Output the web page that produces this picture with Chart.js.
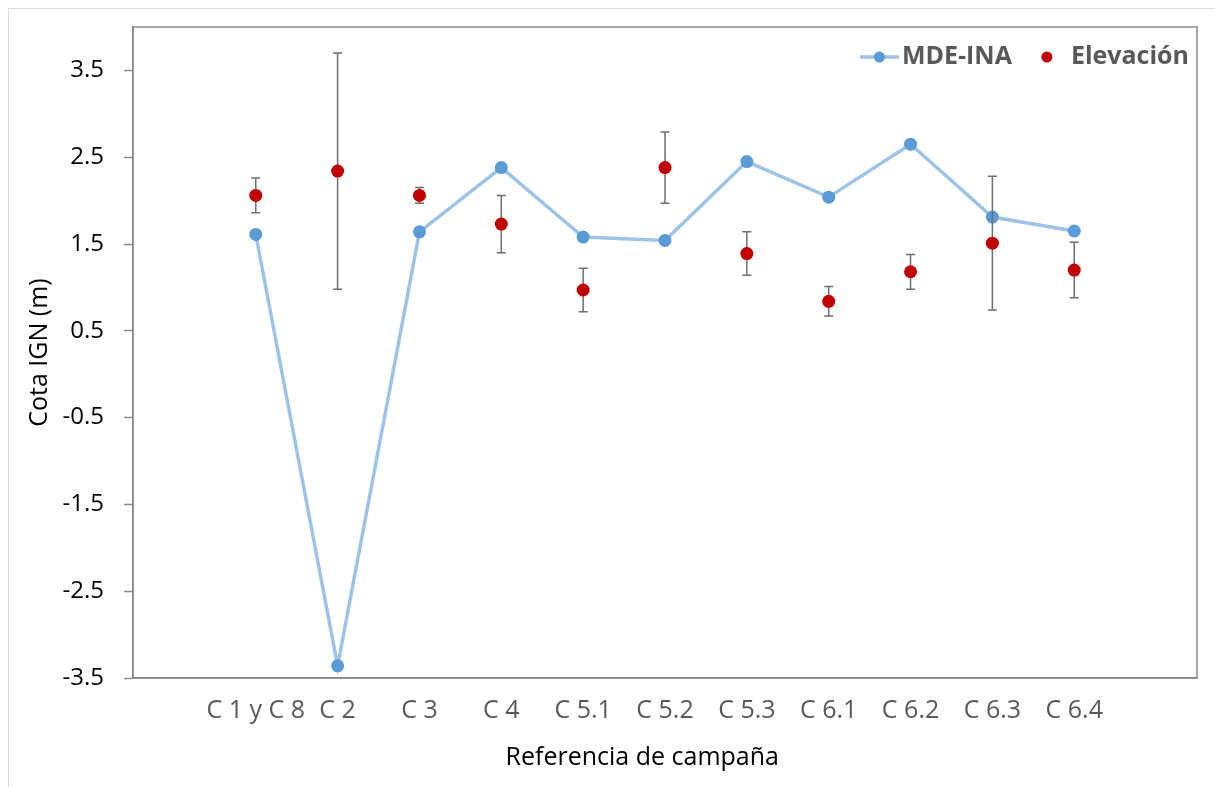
<!DOCTYPE html>
<html lang="es">
<head>
  <meta charset="UTF-8">
  <title>Cota IGN por campaña</title>
  <script src="https://cdn.jsdelivr.net/npm/chart.js"></script>
  <style>
    body { margin: 0; background: #fff; font-family: "Open Sans", sans-serif; }
    #marco { position: absolute; left: 8px; top: 8px; width: 1230px; height: 800px; border: 1.5px solid #d9d9d9; }
    #grafico { position: absolute; left: 0; top: 0; }
  </style>
</head>
<body>
  <div id="marco"></div>
  <canvas id="grafico" width="1215" height="787"></canvas>

  <script>
    // datos
    const campanas = ['C 1 y C 8', 'C 2', 'C 3', 'C 4', 'C 5.1', 'C 5.2', 'C 5.3', 'C 6.1', 'C 6.2', 'C 6.3', 'C 6.4'];
    const mdeIna = [1.61, -3.36, 1.64, 2.38, 1.58, 1.54, 2.45, 2.04, 2.65, 1.81, 1.65];
    const elevacion = [2.06, 2.34, 2.06, 1.73, 0.97, 2.38, 1.39, 0.84, 1.18, 1.51, 1.20];
    const errorElev = [0.20, 1.36, 0.09, 0.33, 0.25, 0.41, 0.25, 0.17, 0.20, 0.77, 0.32];
    const yTicks = [-3.5, -2.5, -1.5, -0.5, 0.5, 1.5, 2.5, 3.5];

    const AZUL_LINEA = '#9DC3E6';
    const AZUL = '#5B9BD5';
    const ROJO = '#C00000';
    const GRIS_EJE = '#898989';

    const puntos = vals => vals.map((v, i) => ({ x: i + 1, y: v }));

    // barras de error, dibujadas antes de los puntos rojos
    const barrasError = {
      id: 'barrasError',
      beforeDatasetDraw(chart, args) {
        if (args.index !== 1) return;
        const ctx = chart.ctx;
        const xs = chart.scales.x, ys = chart.scales.y;
        ctx.save();
        ctx.strokeStyle = '#6f6f6f';
        ctx.lineWidth = 1.5;
        elevacion.forEach((v, i) => {
          const x = xs.getPixelForValue(i + 1);
          const y1 = ys.getPixelForValue(v + errorElev[i]);
          const y2 = ys.getPixelForValue(v - errorElev[i]);
          ctx.beginPath();
          ctx.moveTo(x, y1); ctx.lineTo(x, y2);
          ctx.moveTo(x - 4.5, y1); ctx.lineTo(x + 4.5, y1);
          ctx.moveTo(x - 4.5, y2); ctx.lineTo(x + 4.5, y2);
          ctx.stroke();
        });
        ctx.restore();
      }
    };

    // marco del area de trazado y leyenda dentro del area
    const marcoLeyenda = {
      id: 'marcoLeyenda',
      afterDraw(chart) {
        const ctx = chart.ctx;
        const a = chart.chartArea;
        ctx.save();
        ctx.strokeStyle = GRIS_EJE;
        ctx.lineWidth = 1.5;
        ctx.strokeRect(a.left, a.top, a.right - a.left, a.bottom - a.top);

        ctx.font = 'bold 25px "Open Sans"';
        ctx.fillStyle = '#595959';
        ctx.textBaseline = 'middle';
        const y = a.top + 30;
        const t1 = 'MDE-INA', t2 = 'Elevación';
        const w1 = ctx.measureText(t1).width, w2 = ctx.measureText(t2).width;
        const x2 = a.right - 8 - w2;
        const dot2 = x2 - 24;
        const x1 = dot2 - 35 - w1;
        ctx.fillText(t1, x1, y);
        ctx.fillText(t2, x2, y);

        ctx.strokeStyle = AZUL_LINEA;
        ctx.lineWidth = 3.5;
        ctx.beginPath();
        ctx.moveTo(x1 - 42, y); ctx.lineTo(x1 - 3, y);
        ctx.stroke();
        ctx.fillStyle = AZUL;
        ctx.beginPath(); ctx.arc(x1 - 22.5, y, 5.5, 0, Math.PI * 2); ctx.fill();
        ctx.fillStyle = ROJO;
        ctx.beginPath(); ctx.arc(dot2, y, 5.5, 0, Math.PI * 2); ctx.fill();
        ctx.restore();
      }
    };

    new Chart(document.getElementById('grafico'), {
      type: 'line',
      data: {
        datasets: [{
          label: 'MDE-INA',
          data: puntos(mdeIna),
          borderColor: AZUL_LINEA,
          borderWidth: 3.5,
          pointBackgroundColor: AZUL,
          pointBorderWidth: 0,
          pointRadius: 6.5,
          tension: 0,
          order: 1
        }, {
          label: 'Elevación',
          data: puntos(elevacion),
          showLine: false,
          pointBackgroundColor: ROJO,
          pointBorderWidth: 0,
          pointRadius: 6.5,
          order: 0
        }]
      },
      options: {
        responsive: false,
        animation: false,
        layout: { padding: { top: 27, right: 18, left: 0, bottom: 0 } },
        plugins: {
          legend: { display: false },
          tooltip: { enabled: false }
        },
        scales: {
          x: {
            type: 'linear',
            min: -0.5,
            max: 12.5,
            afterBuildTicks: s => { s.ticks = campanas.map((c, i) => ({ value: i + 1 })); },
            afterFit: s => { s.height = 109; s.paddingLeft = 0; s.paddingRight = 0; },
            grid: { display: false },
            border: { color: GRIS_EJE, width: 1.5 },
            ticks: {
              autoSkip: false,
              maxRotation: 0,
              padding: 10,
              color: '#595959',
              font: { family: 'Open Sans', size: 25 },
              callback: v => campanas[v - 1] || ''
            },
            title: {
              display: true,
              // espacios finales: el titulo de Excel queda algo a la izquierda
              text: 'Referencia de campaña       ',
              color: '#000',
              font: { family: 'Open Sans', size: 25 },
              padding: { top: 0, bottom: 14 }
            }
          },
          y: {
            min: -3.5,
            max: 4.0,
            afterBuildTicks: s => { s.ticks = yTicks.map(v => ({ value: v })); },
            afterFit: s => { s.width = 133; s.paddingTop = 0; s.paddingBottom = 0; },
            grid: { drawOnChartArea: false, tickLength: 9, tickColor: GRIS_EJE, tickWidth: 1.5 },
            border: { color: GRIS_EJE, width: 1.5 },
            ticks: {
              padding: 20,
              color: '#000',
              font: { family: 'Open Sans', size: 24 },
              callback: v => v.toFixed(1)
            },
            title: {
              display: true,
              text: 'Cota IGN (m)',
              color: '#000',
              font: { family: 'Open Sans', size: 25 },
              padding: { top: 25, bottom: 0 }
            }
          }
        }
      },
      plugins: [barrasError, marcoLeyenda]
    });
  </script>
</body>
</html>
